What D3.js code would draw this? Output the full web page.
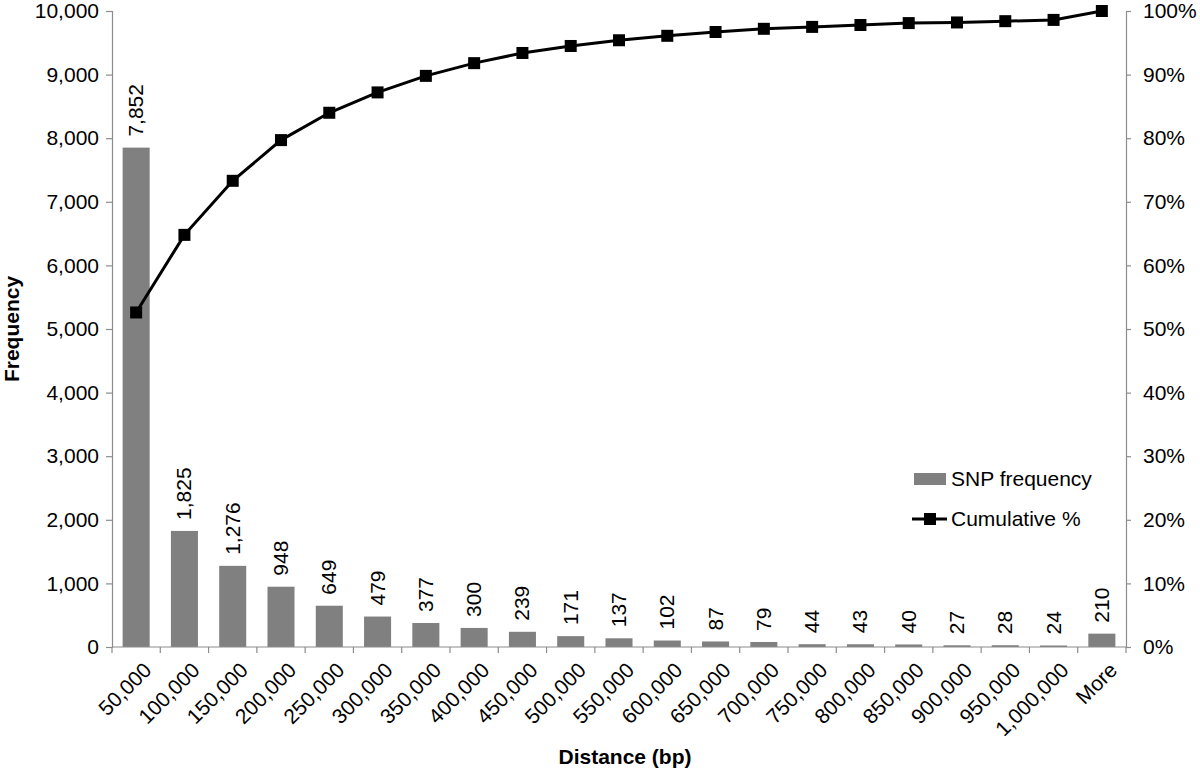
<!DOCTYPE html>
<html lang="en">
<head>
<meta charset="utf-8">
<title>SNP distance</title>
<script src="https://cdn.jsdelivr.net/npm/d3@7"></script>
<style>
  body { margin: 0; background: #fff; }
  svg text { font-family: "Liberation Sans", Arial, sans-serif; }
  .axis path, .axis line { stroke: #8c8c8c; stroke-width: 1.2; }
</style>
</head>
<body>
<script>
// categories (bin upper limits)
var bins = ["50,000", "100,000", "150,000", "200,000", "250,000", "300,000", "350,000",
            "400,000", "450,000", "500,000", "550,000", "600,000", "650,000", "700,000",
            "750,000", "800,000", "850,000", "900,000", "950,000", "1,000,000", "More"];
// SNP frequency per bin
var freq = [7852, 1825, 1276, 948, 649, 479, 377, 300, 239, 171, 137, 102, 87, 79,
            44, 43, 40, 27, 28, 24, 210];
// cumulative percentage
var cumPct = [52.6, 64.8, 73.3, 79.7, 84.0, 87.2, 89.8, 91.8, 93.4, 94.5, 95.4, 96.1,
              96.7, 97.2, 97.5, 97.8, 98.1, 98.2, 98.4, 98.6, 100];
var leftTicks = [0, 1000, 2000, 3000, 4000, 5000, 6000, 7000, 8000, 9000, 10000];
var rightTicks = [0, 10, 20, 30, 40, 50, 60, 70, 80, 90, 100];

var W = 1200, H = 768;
var mLeft = 112, mRight = 1126, mTop = 11, mBottom = 647;
var fs = 21;

var svg = d3.select("body").append("svg").attr("width", W).attr("height", H);

var x = d3.scaleBand().domain(bins).range([mLeft, mRight]).paddingInner(0.44).paddingOuter(0.22);
var y = d3.scaleLinear().domain([0, 10000]).range([mBottom, mTop]);
var y2 = d3.scaleLinear().domain([0, 100]).range([mBottom, mTop]);

// bars
svg.selectAll("rect.bar").data(freq).enter().append("rect")
   .attr("class", "bar")
   .attr("x", function(d, i) { return x(bins[i]); })
   .attr("y", function(d) { return y(d); })
   .attr("width", x.bandwidth())
   .attr("height", function(d) { return mBottom - y(d); })
   .attr("fill", "#808080");

// bar value labels, rotated
svg.selectAll("text.val").data(freq).enter().append("text")
   .attr("class", "val")
   .attr("transform", function(d, i) {
       return "translate(" + (x(bins[i]) + x.bandwidth() / 2 + 7) + "," + (y(d) - 11) + ") rotate(-90)";
   })
   .attr("font-size", fs)
   .attr("fill", "#000")
   .text(function(d) { return d3.format(",")(d); });

// left axis
var gl = svg.append("g").attr("class", "axis").attr("transform", "translate(" + mLeft + ",0)")
   .call(d3.axisLeft(y).tickValues(leftTicks).tickFormat(d3.format(",")).tickSize(6).tickPadding(7));
gl.selectAll("text").attr("font-size", fs).attr("fill", "#000");

// right axis
var gr = svg.append("g").attr("class", "axis").attr("transform", "translate(" + mRight + ",0)")
   .call(d3.axisRight(y2).tickValues(rightTicks).tickFormat(function(d) { return d + "%"; }).tickSize(5).tickPadding(12));
gr.selectAll("text").attr("font-size", fs).attr("fill", "#000");

// bottom axis, ticks between categories
var gb = svg.append("g").attr("class", "axis").attr("transform", "translate(0," + mBottom + ")");
gb.append("line").attr("x1", mLeft).attr("x2", mRight).attr("y1", 0).attr("y2", 0);
gb.selectAll("line.tk").data(d3.range(bins.length + 1)).enter().append("line")
   .attr("class", "tk")
   .attr("x1", function(i) { return mLeft + i * (mRight - mLeft) / bins.length; })
   .attr("x2", function(i) { return mLeft + i * (mRight - mLeft) / bins.length; })
   .attr("y1", 0).attr("y2", 6);
gb.selectAll("text").data(bins).enter().append("text")
   .attr("transform", function(d) {
       return "translate(" + (x(d) + x.bandwidth() / 2 + 6) + ",14) rotate(-45)";
   })
   .attr("text-anchor", "end")
   .attr("dy", "0.71em")
   .attr("font-size", fs)
   .attr("fill", "#000")
   .text(function(d) { return d; });

// cumulative line
var line = d3.line()
   .x(function(d, i) { return x(bins[i]) + x.bandwidth() / 2; })
   .y(function(d) { return y2(d); });
svg.append("path").datum(cumPct)
   .attr("d", line)
   .attr("fill", "none")
   .attr("stroke", "#000")
   .attr("stroke-width", 3);
svg.selectAll("rect.mk").data(cumPct).enter().append("rect")
   .attr("class", "mk")
   .attr("x", function(d, i) { return x(bins[i]) + x.bandwidth() / 2 - 6; })
   .attr("y", function(d) { return y2(d) - 6; })
   .attr("width", 12).attr("height", 12)
   .attr("fill", "#000");

// axis titles
svg.append("text")
   .attr("transform", "translate(19," + ((mTop + mBottom) / 2) + ") rotate(-90)")
   .attr("text-anchor", "middle")
   .attr("font-size", fs).attr("font-weight", "bold")
   .text("Frequency");
svg.append("text")
   .attr("x", (mLeft + mRight) / 2 + 6).attr("y", 764)
   .attr("text-anchor", "middle")
   .attr("font-size", fs).attr("font-weight", "bold")
   .text("Distance (bp)");

// legend
var lg = svg.append("g").attr("transform", "translate(914,479)");
lg.append("rect").attr("x", 0).attr("y", -6).attr("width", 32).attr("height", 12).attr("fill", "#808080");
lg.append("text").attr("x", 37).attr("y", 0).attr("dy", "0.35em").attr("font-size", fs).text("SNP frequency");
lg.append("line").attr("x1", -2).attr("x2", 33).attr("y1", 40).attr("y2", 40).attr("stroke", "#000").attr("stroke-width", 3);
lg.append("rect").attr("x", 10).attr("y", 34).attr("width", 12).attr("height", 12).attr("fill", "#000");
lg.append("text").attr("x", 37).attr("y", 40).attr("dy", "0.35em").attr("font-size", fs).text("Cumulative %");
</script>
</body>
</html>
